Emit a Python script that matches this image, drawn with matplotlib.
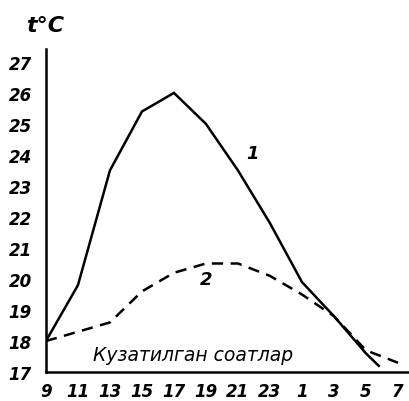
import matplotlib
matplotlib.use("Agg")
import matplotlib.pyplot as plt

# x positions are tick indices (0 -> 9 h, 1 -> 11 h, ...)
hour_labels = ["9", "11", "13", "15", "17", "19", "21", "23", "1", "3", "5", "7"]
y_ticks = [17, 18, 19, 20, 21, 22, 23, 24, 25, 26, 27]

curve1_x = [0, 1, 2, 3, 4, 5, 6, 7, 8, 9, 10, 10.4]
curve1_y = [18.0, 19.8, 23.5, 25.4, 26.0, 25.0, 23.5, 21.8, 19.9, 18.8, 17.6, 17.2]

curve2_x = [0, 1, 2, 3, 4, 5, 5.4, 6, 7, 8, 9, 10, 11]
curve2_y = [18.0, 18.3, 18.6, 19.6, 20.2, 20.5, 20.5, 20.5, 20.1, 19.5, 18.8, 17.7, 17.3]

fig = plt.figure(figsize=(4.10, 4.02), dpi=100)
ax = fig.add_axes([0.112, 0.072, 0.888, 0.804])

ax.plot(curve1_x, curve1_y, color="black", lw=1.8, solid_joinstyle="miter")
ax.plot(curve2_x, curve2_y, color="black", lw=1.8, linestyle=(0, (4.5, 3)))

ax.set_xlim(0, 11.375)
ax.set_ylim(17, 27.42)
ax.set_xticks(range(len(hour_labels)))
ax.set_xticklabels(hour_labels)
ax.set_yticks(y_ticks)
ax.set_yticklabels([str(v) for v in y_ticks])

font = dict(family="DejaVu Sans", style="italic", weight="bold")
for lab in ax.get_xticklabels() + ax.get_yticklabels():
    lab.set_fontsize(12)
    lab.set_fontstyle("italic")
    lab.set_fontweight("bold")
ax.tick_params(axis="both", length=0)
ax.tick_params(axis="y", pad=10)
ax.tick_params(axis="x", pad=7)

for s in ["top", "right"]:
    ax.spines[s].set_visible(False)
ax.spines["left"].set_linewidth(1.8)
ax.spines["bottom"].set_linewidth(1.8)

ax.text(6.25, 23.9, "1", fontsize=13, **font)
ax.text(5.0, 20.0, "2", fontsize=13, ha="center", va="center", **font)
ax.text(4.6, 17.55, "Кузатилган соатлар", fontsize=13.5, ha="center", va="center",
        family="DejaVu Sans", style="italic")
fig.text(0.11, 0.935, "t°C", fontsize=16, ha="center", va="center", **font)

fig.savefig("out.png", dpi=100)
